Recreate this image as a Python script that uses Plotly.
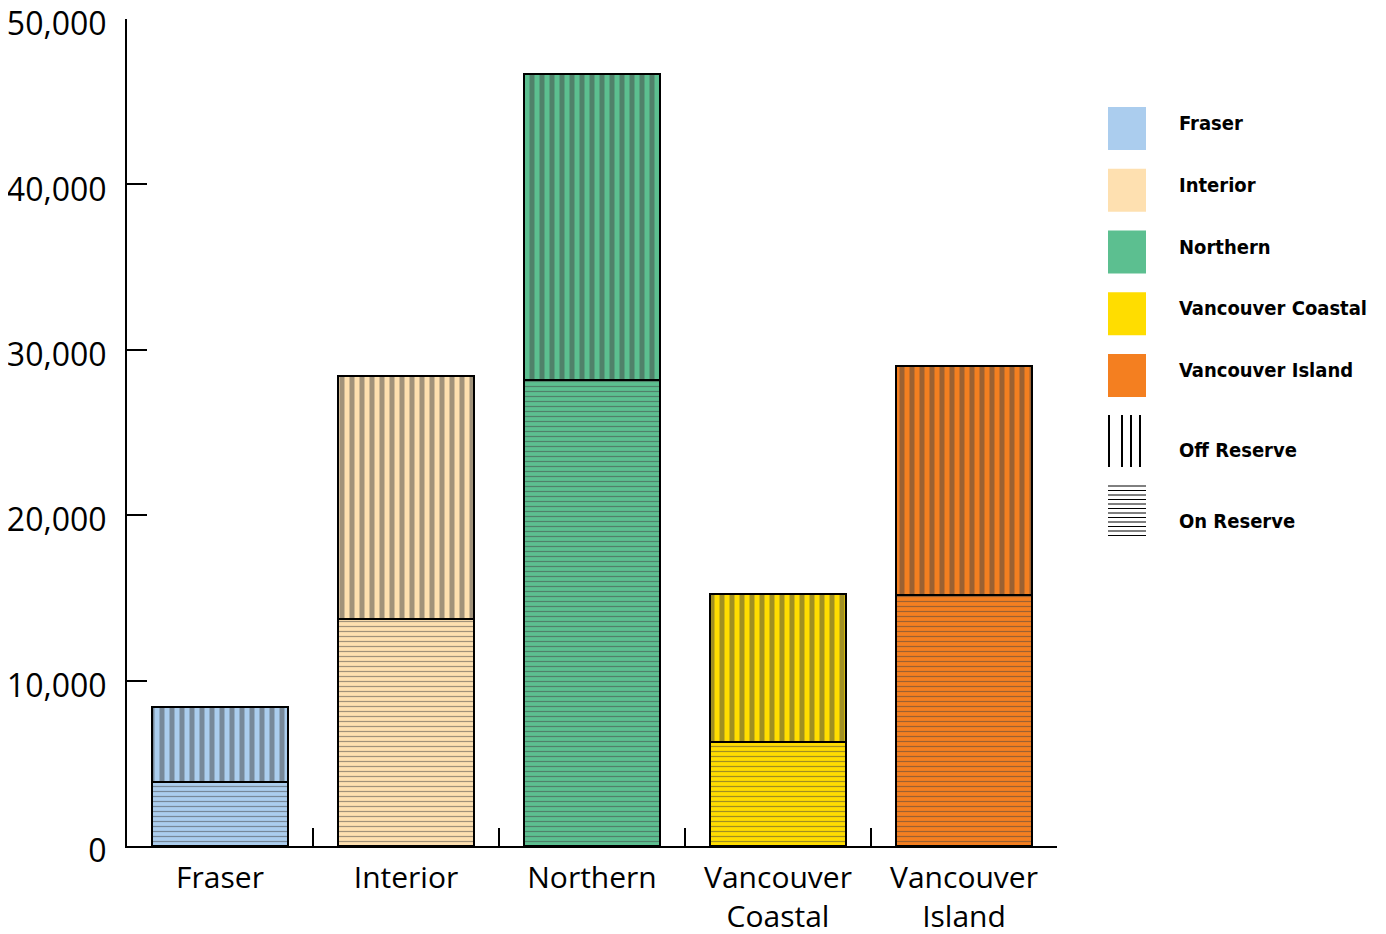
import plotly.graph_objects as go

regions = ["Fraser", "Interior", "Northern", "Vancouver Coastal", "Vancouver Island"]
tick_labels = ["Fraser", "Interior", "Northern", "Vancouver<br>Coastal", "Vancouver<br>Island"]
on_reserve = [3900, 13700, 28200, 6300, 15200]
off_reserve = [4500, 14700, 18450, 8950, 13800]
colors = ["#ABCDEE", "#FEE0B0", "#5CBF90", "#FFDD00", "#F47F20"]
y_ticks = [0, 10000, 20000, 30000, 40000, 50000]

fig = go.Figure()
fig.add_trace(go.Bar(
    x=tick_labels, y=on_reserve, name="On Reserve", showlegend=False,
    marker=dict(color=colors, line=dict(color="black", width=2),
                pattern=dict(shape="-", fgcolor="black", bgcolor=colors, size=5, solidity=0.25)),
))
fig.add_trace(go.Bar(
    x=tick_labels, y=off_reserve, name="Off Reserve", showlegend=False,
    marker=dict(color=colors, line=dict(color="black", width=2),
                pattern=dict(shape="|", fgcolor="black", bgcolor=colors, size=10, solidity=0.5)),
))

# page body has an 8px margin; figure sized/margined so plot area sits at
# page x 127..1057, y 19..846
fig.update_layout(
    width=1370, height=926,
    margin=dict(l=119, r=321, t=11, b=88),
    barmode="stack", bargap=0.27,
    plot_bgcolor="white", paper_bgcolor="white",
    font=dict(family="Open Sans", size=30, color="black"),
    xaxis=dict(showline=True, linecolor="black", linewidth=2, ticks="inside",
               tickson="boundaries", ticklen=18, tickwidth=2, tickcolor="black",
               showgrid=False, tickfont=dict(size=30), automargin=False,
               ticklabelstandoff=4),
    yaxis=dict(range=[0, 50005], tickvals=y_ticks, tickformat=",", showline=True,
               linecolor="black", linewidth=2, ticks="inside", ticklen=20, tickwidth=2,
               tickcolor="black", showgrid=False, zeroline=False, ticklabelstandoff=12,
               ticklabelshift=5,
               tickfont=dict(size=32), automargin=False, ticklabeloverflow="allow"),
)

# Legend (drawn in paper coordinates, relative to the plot area)
def py(p):
    return (846 - p) / 827.0

def px(p):
    return (p - 127) / 930.0

shapes = []
annotations = []
legend_font = dict(family="DejaVu Sans Condensed", size=20, color="black")
for i, (name, c) in enumerate(zip(regions, colors)):
    top = 107 + i * 61.75
    shapes.append(dict(type="rect", xref="paper", yref="paper",
                       x0=px(1108), x1=px(1146), y0=py(top + 43), y1=py(top),
                       fillcolor=c, line=dict(width=0)))
    annotations.append(dict(xref="paper", yref="paper", x=px(1177), y=py(top + 16),
                            text="<b>" + name + "</b>", showarrow=False,
                            xanchor="left", yanchor="middle", font=legend_font))
for xv in [1109, 1122, 1131, 1140]:
    shapes.append(dict(type="line", xref="paper", yref="paper",
                       x0=px(xv), x1=px(xv), y0=py(415), y1=py(467),
                       line=dict(color="black", width=2)))
for k in range(12):
    yv = 486 + k * 4.5
    shapes.append(dict(type="line", xref="paper", yref="paper",
                       x0=px(1108), x1=px(1146), y0=py(yv), y1=py(yv),
                       line=dict(color="black", width=1)))
annotations.append(dict(xref="paper", yref="paper", x=px(1177), y=py(450),
                        text="<b>Off Reserve</b>", showarrow=False,
                        xanchor="left", yanchor="middle", font=legend_font))
annotations.append(dict(xref="paper", yref="paper", x=px(1177), y=py(521),
                        text="<b>On Reserve</b>", showarrow=False,
                        xanchor="left", yanchor="middle", font=legend_font))
fig.update_layout(shapes=shapes, annotations=annotations)

fig.write_html("out.html")
